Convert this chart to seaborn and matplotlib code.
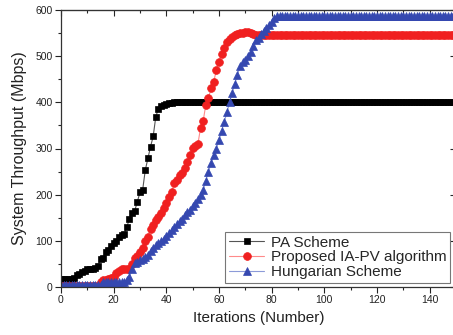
import numpy as np
import pandas as pd
import matplotlib
matplotlib.use("Agg")
import matplotlib.pyplot as plt
import seaborn as sns

# ---- data ----
iterations = list(range(0, 151))

pa_scheme = ([18, 18, 18, 18, 18, 20, 25, 28, 32, 35,
              38, 40, 40, 42, 45, 60, 62, 75, 80, 88,
              95, 100, 108, 112, 115, 130, 148, 160, 165, 185,
              205, 210, 253, 279, 304, 326, 369, 386, 393, 395,
              397, 398, 399] + [400] * 108)

proposed_ia_pv = ([2] * 15 +
                  [10, 15, 15, 18, 20, 22, 30, 35, 38, 38,
                   38, 40, 50, 62, 68, 75, 85, 100, 108, 125,
                   135, 145, 152, 160, 172, 183, 195, 206, 225, 232,
                   243, 248, 258, 270, 285, 302, 306, 310, 345, 360,
                   395, 410, 430, 445, 470, 487, 505, 518, 530, 538,
                   542, 546, 548, 550, 551, 552, 552, 550, 548, 546] + [546] * 76)

hungarian = ([5] * 16 + [10] * 9 +
             [15, 22, 40, 52, 55, 58, 60, 65, 70, 78,
              85, 90, 95, 100, 105, 110, 117, 123, 130, 136,
              142, 148, 155, 162, 167, 175, 182, 190, 200, 210,
              230, 250, 268, 285, 300, 318, 338, 358, 378, 400,
              420, 440, 460, 478, 487, 492, 500, 508, 522, 535,
              540, 548, 555, 562, 568, 575, 582, 586] + [586] * 68)

series_names = ["PA Scheme", "Proposed IA-PV algorithm", "Hungarian Scheme"]
x_ticks = [0, 20, 40, 60, 80, 100, 120, 140]
y_ticks = [0, 100, 200, 300, 400, 500, 600]

df = pd.DataFrame({
    "Iteration": iterations * 3,
    "Throughput": pa_scheme + proposed_ia_pv + hungarian,
    "Series": ([series_names[0]] * len(iterations) + [series_names[1]] * len(iterations)
               + [series_names[2]] * len(iterations)),
})

sns.set_style("white")
plt.rcParams["font.family"] = ["Liberation Sans", "DejaVu Sans"]

fig = plt.figure(figsize=(4.53, 3.35), dpi=100)
ax = fig.add_axes([61 / 453, 48 / 335, 395 / 453, 277 / 335])

styles = {
    series_names[0]: dict(marker="s", ms=5.0, line="#555555", face="#000000"),
    series_names[1]: dict(marker="o", ms=5.6, line="#ff8a8a", face="#f02020"),
    series_names[2]: dict(marker="^", ms=6.0, line="#8c9ad8", face="#3548b0"),
}

for name in series_names:
    st = styles[name]
    sub = df[df["Series"] == name]
    sns.lineplot(data=sub, x="Iteration", y="Throughput", ax=ax, label=name,
                 color=st["line"], linewidth=0.8, marker=st["marker"],
                 markersize=st["ms"], markerfacecolor=st["face"],
                 markeredgecolor=st["face"], markeredgewidth=0.5)

ax.set_xlim(0, 150)
ax.set_ylim(0, 600)
ax.set_xticks(x_ticks)
ax.set_yticks(y_ticks)
ax.set_xticks(np.arange(10, 151, 20), minor=True)
ax.set_yticks(np.arange(50, 600, 100), minor=True)
ax.tick_params(axis="both", which="major", direction="out", length=4, width=0.8,
               labelsize=7.5, colors="#222222", pad=2)
ax.tick_params(axis="both", which="minor", direction="out", length=2.5, width=0.8)
ax.tick_params(axis="both", which="both", bottom=True, left=True)

for side in ["top", "bottom", "left", "right"]:
    ax.spines[side].set_visible(True)
    ax.spines[side].set_color("#333333")
    ax.spines[side].set_linewidth(0.9)

# inward mirrored ticks on top/right
top = ax.secondary_xaxis("top")
top.set_xticks(x_ticks)
top.set_xticks(np.arange(10, 151, 20), minor=True)
top.tick_params(which="major", direction="in", length=4, width=0.8, labeltop=False)
top.tick_params(which="minor", direction="in", length=2.5, width=0.8)
top.spines["top"].set_color("#333333")
right = ax.secondary_yaxis("right")
right.set_yticks(y_ticks)
right.set_yticks(np.arange(50, 600, 100), minor=True)
right.tick_params(which="major", direction="in", length=4, width=0.8, labelright=False)
right.tick_params(which="minor", direction="in", length=2.5, width=0.8)

ax.set_xlabel("Iterations (Number)", fontsize=11, color="#222222", labelpad=4)
ax.set_ylabel("System Throughput (Mbps)", fontsize=11.5, color="#222222", labelpad=6)

leg = ax.legend(loc="lower right", bbox_to_anchor=(450 / 453, (335 - 283) / 335),
                bbox_transform=fig.transFigure, fontsize=11, frameon=True,
                fancybox=False, framealpha=1, edgecolor="#777777",
                borderpad=0.25, labelspacing=0.05, handlelength=2.3,
                handletextpad=0.4, borderaxespad=0)
leg.get_frame().set_linewidth(0.8)

fig.savefig("out.png", dpi=100)
